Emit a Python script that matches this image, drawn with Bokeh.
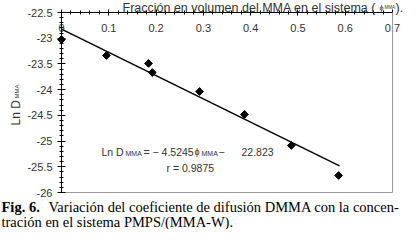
import numpy as np
from bokeh.plotting import figure
from bokeh.models import Label, FixedTicker, Range1d, LinearAxis
from bokeh.embed import file_html
from bokeh.resources import INLINE

# ---- data ----
phi = [0.0, 0.095, 0.184, 0.192, 0.292, 0.387, 0.486, 0.586]
ln_d = [-23.025, -23.336, -23.49, -23.667, -24.036, -24.483, -25.086, -25.669]
fit_x = [0.0, 0.588]
fit_y = [-22.823, -25.483]
x_ticks = [0.0, 0.1, 0.2, 0.3, 0.4, 0.5, 0.6, 0.7]
x_tick_labels = ["0", "0.1", "0.2", "0.3", "0.4", "0.5", "0.6", "0.7"]
y_ticks = [-22.5, -23.0, -23.5, -24.0, -24.5, -25.0, -25.5, -26.0]
y_tick_labels = ["-22.5", "-23", "-23.5", "-24", "-24.5", "-25", "-25.5", "-26"]
x_lo, x_hi = 0.0, 0.7
y_lo, y_hi = -26.0, -22.5

SANS = "Liberation Sans"
SERIF = "Liberation Serif"
GRAY = "#333333"
W, H = 403, 229

# layout: plot box spans pixels 61..392 (x) and 12..192 (y) of the canvas
box_l, box_r, box_t, box_b = 61, 392, 12, 192
sx = (box_r - box_l) / (x_hi - x_lo)
sy = (box_b - box_t) / (y_hi - y_lo)
xr = Range1d(x_lo - box_l / sx, x_lo + (W - box_l) / sx)
yr = Range1d(y_hi - H / sy + box_t / sy, y_hi + box_t / sy)

p = figure(width=W, height=H, x_range=xr, y_range=yr, x_axis_type=None, y_axis_type=None,
           output_backend="svg", toolbar_location=None, min_border=0)
p.grid.visible = False
p.outline_line_color = None
p.background_fill_color = "white"
p.border_fill_color = "white"

# left axis
ya = LinearAxis(fixed_location=x_lo, bounds=(y_lo, y_hi),
                ticker=FixedTicker(ticks=y_ticks,
                                   minor_ticks=list(np.round(np.arange(y_lo, y_hi + 0.01, 0.1), 2))))
ya.major_label_overrides = {t: s for t, s in zip(y_ticks, y_tick_labels)}
ya.major_tick_in = 4
ya.major_tick_out = 4
ya.minor_tick_in = 2
ya.minor_tick_out = 2
ya.major_label_standoff = 5
ya.major_label_text_font = SANS
ya.major_label_text_font_size = "11px"
ya.major_label_text_color = GRAY
ya.axis_line_color = "black"
p.add_layout(ya, "left")

# top axis with labels hanging inside the plot box
xa = LinearAxis(fixed_location=y_hi, bounds=(x_lo, x_hi),
                ticker=FixedTicker(ticks=x_ticks,
                                   minor_ticks=list(np.round(np.arange(x_lo, x_hi + 0.001, 0.02), 3))))
xa.major_label_overrides = {t: s for t, s in zip(x_ticks, x_tick_labels)}
xa.major_tick_in = 3
xa.major_tick_out = 3
xa.minor_tick_in = 2
xa.minor_tick_out = 2
xa.major_label_standoff = -22
xa.major_label_text_font = SANS
xa.major_label_text_font_size = "11px"
xa.major_label_text_color = GRAY
xa.axis_line_color = "black"
p.add_layout(xa, "above")

# gray right / bottom frame lines
ra = LinearAxis(fixed_location=x_hi, bounds=(y_lo, y_hi), ticker=FixedTicker(ticks=[], minor_ticks=[]))
ra.axis_line_color = "#9a9a9a"
p.add_layout(ra, "right")
ba = LinearAxis(fixed_location=y_lo, bounds=(x_lo, x_hi), ticker=FixedTicker(ticks=[], minor_ticks=[]))
ba.axis_line_color = "#9a9a9a"
p.add_layout(ba, "below")

p.line(fit_x, fit_y, line_color="black", line_width=1.5)
p.scatter(phi, ln_d, marker="square", angle=np.pi / 4, size=5.5, color="black")


def px(v):
    return xr.start + v / sx


def py(v):
    return yr.end - v / sy


def lab(text, x, y, size="10px", font=SANS, style="normal", color=GRAY, angle=0):
    p.add_layout(Label(x=px(x), y=py(y), text=text, text_font=font, text_font_size=size,
                       text_font_style=style, text_color=color, angle=angle,
                       text_align="left", text_baseline="alphabetic"))


# title (top, partly cut off as in reference)
lab("Fracción en volumen del MMA en el sistema  (", 122, 7, size="12.5px")
lab("ϕ", 379, 7, size="7px")
lab("MMA", 384, 7, size="4.5px")
lab(").", 395, 7, size="12.5px")

# y label
lab("Ln D", 15, 125, size="12px", angle=np.pi / 2)
lab("MMA", 16, 98, size="6px", angle=np.pi / 2)

# equation
ex, ey = 101, 151
lab("Ln D", ex, ey, size="10.5px")
lab("MMA", ex + 24, ey + 2, size="7px")
lab("= − 4.5245", ex + 42, ey, size="10.5px")
lab("ϕ", ex + 93, ey, size="9px")
lab("MMA", ex + 100, ey + 2, size="7px")
lab("−", ex + 117, ey, size="10.5px")
lab("22.823", ex + 140, ey, size="10.5px")
lab("r = 0.9875", ex + 65, ey + 16, size="10.5px")

# caption
lab("Fig. 6.", 1, 206, size="14.5px", font=SERIF, style="bold", color="black")
lab("Variación del coeficiente de difusión DMMA con la concen-", 48, 206,
    size="14.5px", font=SERIF, color="black")
lab("tración en el sistema PMPS/(MMA-W).", 1, 221, size="14.5px", font=SERIF,
    color="black")

open("out.html", "w").write(file_html(p, INLINE))
